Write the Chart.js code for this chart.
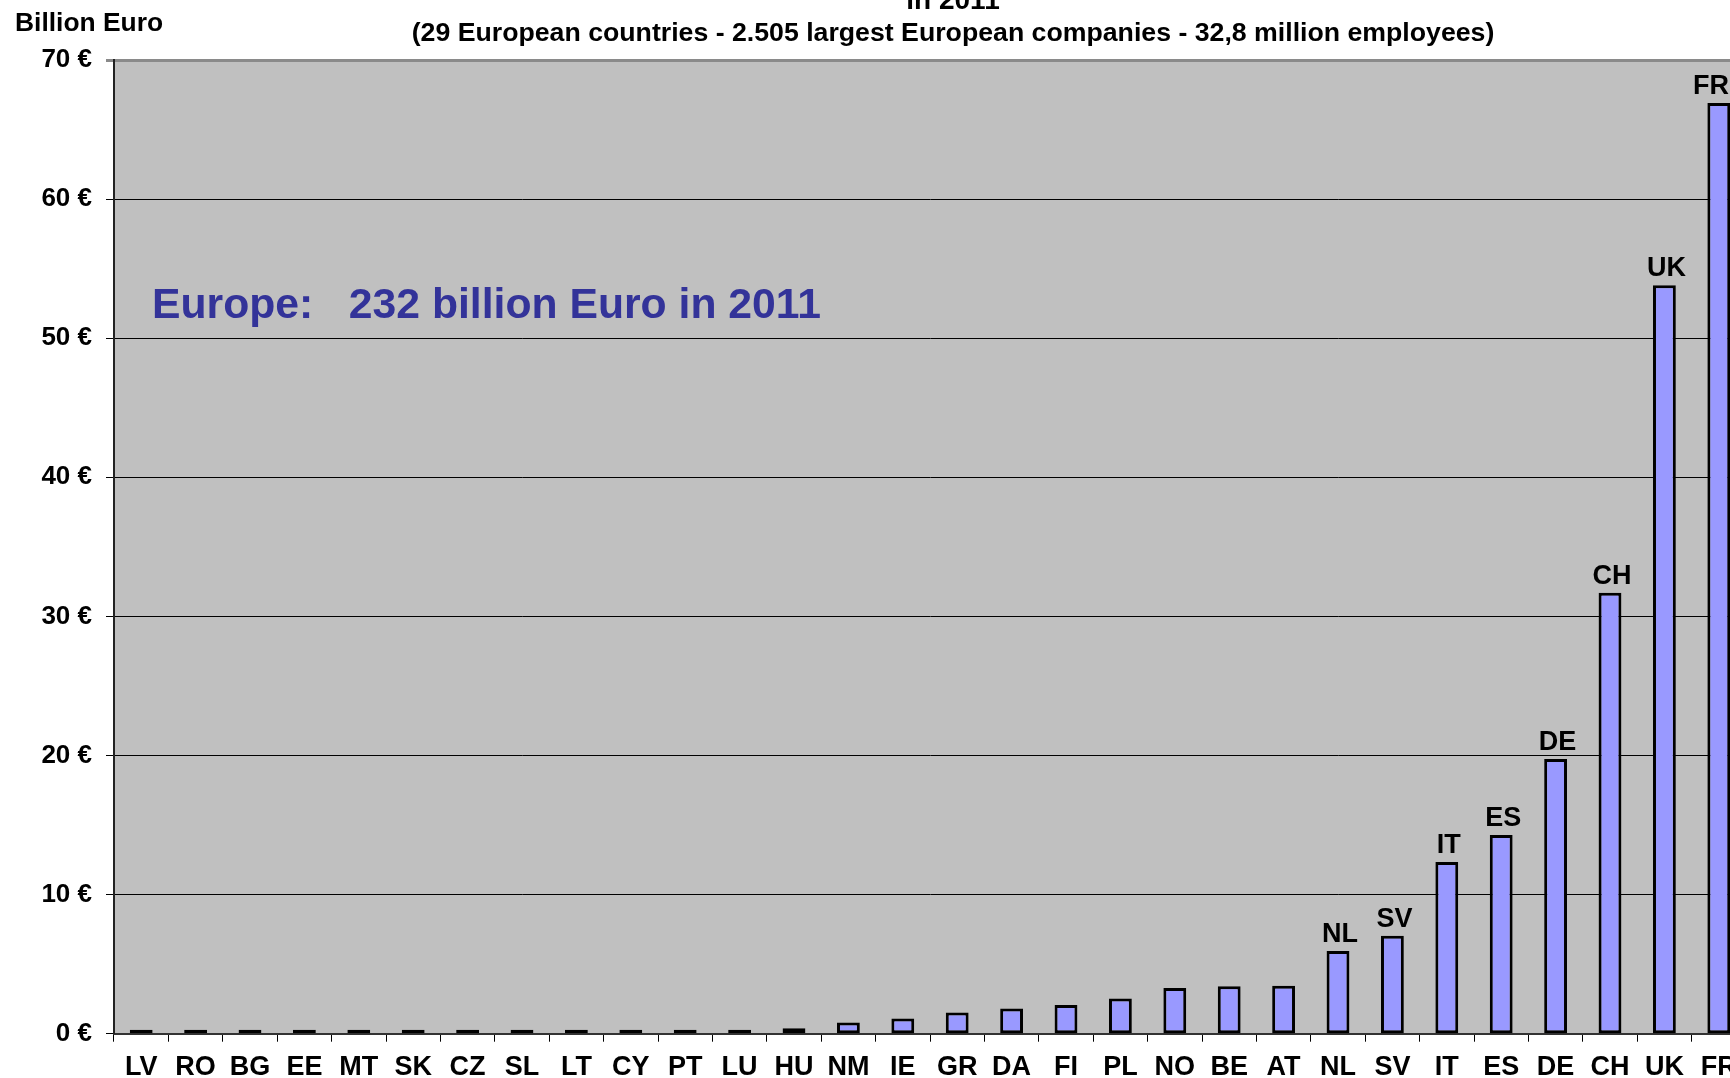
<!DOCTYPE html>
<html>
<head>
<meta charset="utf-8">
<script src="https://cdn.jsdelivr.net/npm/chart.js@4/dist/chart.umd.min.js"></script>
<style>
  html, body { margin: 0; padding: 0; background: #ffffff; overflow: hidden; width: 1730px; height: 1078px; }
  #wrap { position: absolute; left: 0; top: 0; width: 1760px; height: 1078px; }
  canvas { display: block; }
</style>
</head>
<body>
<div id="wrap"><canvas id="c" width="1760" height="1078"></canvas></div>
<script>
// ---- data ----
const categories = ['LV','RO','BG','EE','MT','SK','CZ','SL','LT','CY','PT','LU','HU','NM','IE','GR','DA','FI','PL','NO','BE','AT','NL','SV','IT','ES','DE','CH','UK','FR'];
const profits = [0.01,0.01,0.02,0.02,0.02,0.03,0.08,0.12,0.12,0.17,0.25,0.25,0.4,0.8,1.1,1.52,1.82,2.06,2.53,3.28,3.42,3.45,5.95,7.05,12.35,14.28,19.75,31.7,53.8,66.9];
const labelledCategories = ['NL','SV','IT','ES','DE','CH','UK','FR'];
const yTicks = [0,10,20,30,40,50,60,70];
const titleLine = 'in 2011';
const subtitleLine = '(29 European countries - 2.505 largest European companies - 32,8 million employees)';
const yAxisTitle = 'Billion Euro';
const annotationText = 'Europe:   232 billion Euro in 2011';

const FONT = "'Liberation Sans', Arial, Helvetica, sans-serif";
const VISIBLE_WIDTH = 1730;

const bgPlugin = {
  id: 'plotBg',
  beforeDraw(chart) {
    const {ctx, chartArea: a} = chart;
    ctx.save();
    ctx.fillStyle = '#C0C0C0';
    ctx.fillRect(a.left, a.top, a.right - a.left, a.bottom - a.top);
    ctx.restore();
  }
};

const textPlugin = {
  id: 'texts',
  afterDatasetsDraw(chart) {
    const {ctx} = chart;
    const meta = chart.getDatasetMeta(0);
    ctx.save();
    ctx.fillStyle = '#000';
    ctx.font = 'bold 27px ' + FONT;
    ctx.textAlign = 'center';
    ctx.textBaseline = 'alphabetic';
    categories.forEach((c, i) => {
      if (labelledCategories.includes(c)) {
        const el = meta.data[i];
        const w = ctx.measureText(c).width;
        const x = Math.min(el.x + 2, VISIBLE_WIDTH - w / 2 - 1);
        ctx.fillText(c, x, el.y - 9);
      }
    });
    ctx.restore();
  },
  afterDraw(chart) {
    const {ctx} = chart;
    ctx.save();
    ctx.fillStyle = '#000';
    ctx.textAlign = 'center';
    ctx.textBaseline = 'alphabetic';
    ctx.font = 'bold 28px ' + FONT;
    ctx.fillText(titleLine, 953, 9);
    ctx.font = 'bold 26.7px ' + FONT;
    ctx.textBaseline = 'middle';
    ctx.fillText(subtitleLine, 953, 34);
    ctx.textAlign = 'left';
    ctx.font = 'bold 26.4px ' + FONT;
    ctx.fillText(yAxisTitle, 15, 24);
    ctx.fillStyle = '#333399';
    ctx.font = 'bold 42.7px ' + FONT;
    ctx.fillText(annotationText, 152, 306);
    ctx.restore();
  }
};

new Chart(document.getElementById('c'), {
  type: 'bar',
  data: {
    labels: categories,
    datasets: [{
      data: profits,
      backgroundColor: '#9999FF',
      borderColor: '#000000',
      borderWidth: 3,
      borderSkipped: false,
      minBarLength: 4,
      categoryPercentage: 1.0,
      barPercentage: 0.42
    }]
  },
  options: {
    responsive: false,
    animation: false,
    devicePixelRatio: 1,
    layout: { padding: { left: 0, right: 14, top: 60, bottom: 0 } },
    plugins: { legend: { display: false }, tooltip: { enabled: false }, title: { display: false } },
    scales: {
      x: {
        grid: { display: true, drawOnChartArea: false, drawTicks: true, tickLength: 8, color: '#000', lineWidth: 1, offset: true },
        border: { display: true, color: '#333', width: 2 },
        ticks: { color: '#000', font: { family: FONT, size: 27, weight: 'bold' }, padding: 10, maxRotation: 0, autoSkip: false },
        afterFit(scale) { scale.height = 44.3; }
      },
      y: {
        min: 0, max: 70,
        afterBuildTicks(scale) { scale.ticks = yTicks.map(v => ({ value: v })); },
        grid: {
          drawTicks: true, tickLength: 8,
          color: (c) => (c.tick && c.tick.value === 70) ? '#8a8a8a' : '#000',
          lineWidth: (c) => (c.tick && c.tick.value === 70) ? 3 : 1
        },
        border: { display: true, color: '#222', width: 2 },
        ticks: { color: '#000', font: { family: FONT, size: 26, weight: 'bold' }, padding: 14, callback: (v) => v + ' €' },
        afterFit(scale) { scale.width = 114; }
      }
    }
  },
  plugins: [bgPlugin, textPlugin]
});
</script>
</body>
</html>
